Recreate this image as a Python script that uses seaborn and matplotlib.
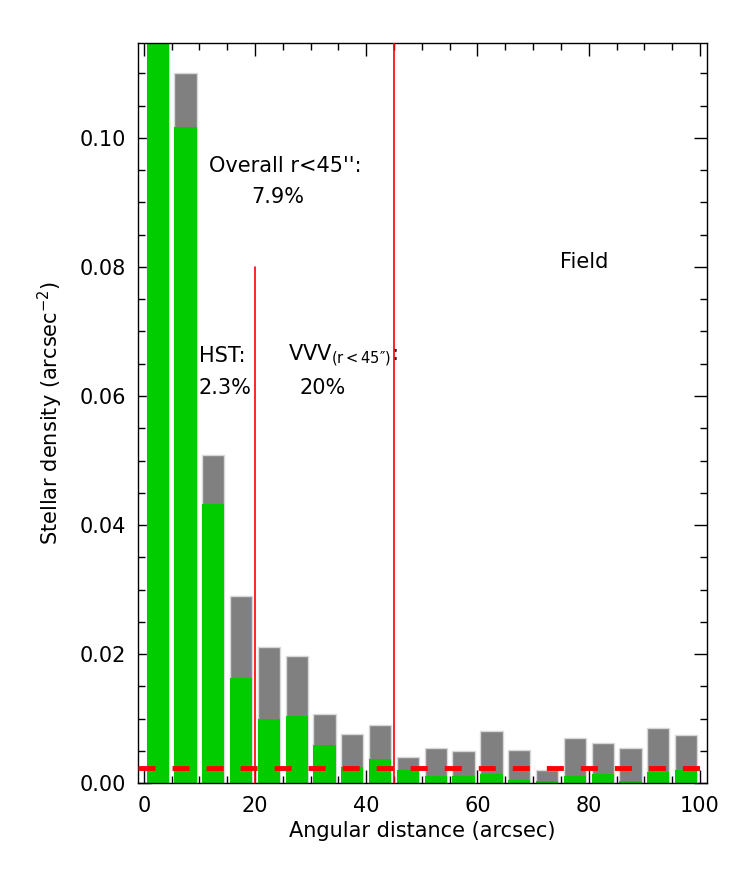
import numpy as np
import pandas as pd
import matplotlib
matplotlib.use("Agg")
import matplotlib.pyplot as plt
from matplotlib.ticker import MultipleLocator, FormatStrFormatter
import seaborn as sns

# bin centres (arcsec), 5" bins
centers = [2.5, 7.5, 12.5, 17.5, 22.5, 27.5, 32.5, 37.5, 42.5, 47.5,
           52.5, 57.5, 62.5, 67.5, 72.5, 77.5, 82.5, 87.5, 92.5, 97.5]
# total stellar density (grey) and cluster-member density (green)
total = [0.160, 0.1100, 0.0508, 0.0290, 0.0211, 0.0197, 0.0108, 0.0076, 0.0090, 0.0041,
         0.0054, 0.0050, 0.0081, 0.0052, 0.0021, 0.0070, 0.0062, 0.0054, 0.0086, 0.0075]
members = [0.155, 0.1016, 0.0432, 0.0163, 0.0099, 0.0104, 0.0059, 0.0026, 0.0037, 0.0020,
           0.0012, 0.0011, 0.0015, 0.0005, 0.0004, 0.0012, 0.0015, 0.0003, 0.0018, 0.0020]
field_level = 0.0024

df = pd.DataFrame({"r": centers, "total": total, "members": members})

sns.set_style("ticks")
plt.rcParams["font.family"] = ["DejaVu Sans"]
plt.rcParams["mathtext.default"] = "regular"
plt.rcParams["text.color"] = "black"
plt.rcParams["axes.labelcolor"] = "black"
plt.rcParams["xtick.color"] = "black"
plt.rcParams["ytick.color"] = "black"

fig = plt.figure(figsize=(7.47, 8.71), dpi=100)
ax = fig.add_axes([0.185, 0.1007, 0.761, 0.850])

sns.barplot(data=df, x="r", y="total", native_scale=True, width=0.8,
            color="#808080", saturation=1, edgecolor="#d8d8d8", linewidth=1, ax=ax)
sns.barplot(data=df, x="r", y="members", native_scale=True, width=0.8,
            color="#00cc00", saturation=1, edgecolor="none", linewidth=0, ax=ax)

ax.axhline(field_level, color="red", lw=3.5, ls=(0, (3.5, 3.5)), zorder=5)
ax.axvline(45, color="red", lw=1.2, zorder=5)
ax.plot([20, 20], [0, 0.08], color="red", lw=1.2, zorder=5)

ax.set_xlim(-1, 101.2)
ax.set_ylim(0, 0.1147)
ax.xaxis.set_major_locator(MultipleLocator(20))
ax.xaxis.set_minor_locator(MultipleLocator(5))
ax.yaxis.set_major_locator(MultipleLocator(0.02))
ax.yaxis.set_minor_locator(MultipleLocator(0.005))
ax.xaxis.set_major_formatter(FormatStrFormatter("%d"))
ax.yaxis.set_major_formatter(FormatStrFormatter("%.2f"))
ax.tick_params(which="both", direction="in", top=True, right=True, width=1,
               color="black", labelcolor="black")
ax.tick_params(which="major", length=9.5, labelsize=15, pad=9)
ax.tick_params(which="minor", length=5)
for s in ax.spines.values():
    s.set_visible(True)
    s.set_color("black")
    s.set_linewidth(1)

ax.set_xlabel("Angular distance (arcsec)", fontsize=15, labelpad=4, color="black")
ax.set_ylabel("Stellar density (arcsec$^{-2}$)", fontsize=15, labelpad=10, color="black")

tk = dict(fontsize=15, ha="center", va="center", color="black")
ax.text(25.4, 0.0957, "Overall r<45'':", **tk)
ax.text(24.0, 0.0908, "7.9%", **tk)
ax.text(14.1, 0.0662, "HST:", **tk)
ax.text(14.6, 0.0613, "2.3%", **tk)
ax.text(35.8, 0.0662, "VVV$_{(r<45\u2033)}$:", **tk)
ax.text(32.1, 0.0613, "20%", **tk)
ax.text(79.2, 0.0807, "Field", **tk)

fig.savefig("out.png", dpi=100)
